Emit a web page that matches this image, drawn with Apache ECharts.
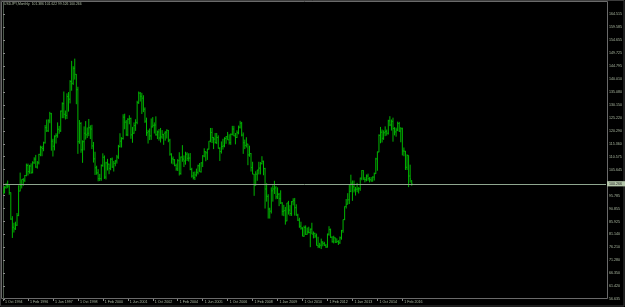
<!DOCTYPE html>
<html>
<head>
<meta charset="utf-8">
<script src="https://cdn.jsdelivr.net/npm/echarts@6/dist/echarts.min.js"></script>
<style>
html,body{margin:0;padding:0;background:#000;}
#c{width:625px;height:307px;}
</style>
</head>
<body>
<div id="c"></div>
<script>
const titleText = 'USDJPY,Monthly  101.386 101.622 99.526 100.266';
const currentPrice = 100.266;
const currentPriceLabel = '100.266';

const xTickIndex = [0, 16, 32, 48, 64, 80, 96, 112, 128, 144, 160, 176, 192, 208, 224, 240, 256];
const xTickLabels = ['1 Oct 1994', '1 Feb 1996', '1 Jun 1997', '1 Oct 1998', '1 Feb 2000', '1 Jun 2001',
  '1 Oct 2002', '1 Feb 2004', '1 Jun 2005', '1 Oct 2006', '1 Feb 2008', '1 Jun 2009', '1 Oct 2010',
  '1 Feb 2012', '1 Jun 2013', '1 Oct 2014', '1 Feb 2016'];

const yTickLabels = ['56.635', '61.420', '66.350', '71.280', '76.210', '81.140', '85.925', '90.855', '95.785',
  '105.645', '110.575', '115.360', '120.290', '125.220', '130.150', '135.080', '140.010', '144.795',
  '149.725', '154.655', '159.585', '164.515'];

// Monthly bars Oct 1994 .. Aug 2016 : [open, high, low, close]
const ohlc1994 = [[98.5,98.9,96.2,97.1],[97.1,99.4,96.6,98.9],[98.9,100.6,98.4,99.7]];
const ohlc1995 = [[99.7,101.5,98.6,99.4],[99.4,99.8,96.1,96.9],[96.9,97.0,86.6,86.9],[86.9,88.0,79.75,83.8],
  [83.8,85.5,81.8,83.2],[83.2,85.9,82.8,84.6],[84.6,89.2,84.3,88.3],[88.3,99.7,88.0,97.5],
  [97.5,104.5,97.4,99.7],[99.7,101.9,98.5,101.9],[101.9,102.4,99.5,101.6],[101.6,103.6,100.9,103.4]];
const ohlc1996 = [[103.4,107.9,103.1,107.2],[107.2,107.9,103.4,104.9],[104.9,107.4,104.1,107.0],[107.0,108.0,104.0,104.6],
  [104.6,108.8,104.2,108.2],[108.2,110.3,107.8,109.6],[109.6,111.2,106.3,106.6],[106.6,108.9,106.0,108.2],
  [108.2,111.6,107.6,111.4],[111.4,114.7,110.7,114.0],[114.0,114.6,110.7,113.6],[113.6,116.2,112.6,115.8]];
const ohlc1997 = [[115.8,122.5,115.5,121.5],[121.5,124.6,119.9,120.3],[120.3,124.7,119.9,124.1],[124.1,127.5,123.2,126.8],
  [126.8,127.1,112.8,116.4],[116.4,117.3,110.6,114.5],[114.5,118.6,112.9,118.3],[118.3,119.4,115.5,118.6],
  [118.6,123.5,117.7,120.9],[120.9,122.2,119.2,120.3],[120.3,128.0,119.9,127.8],[127.8,131.1,125.1,130.6]];
const ohlc1998 = [[130.6,135.2,125.1,126.6],[126.6,128.0,124.6,126.1],[126.1,134.5,124.8,133.3],[133.3,135.0,127.6,132.3],
  [132.3,139.5,130.7,139.0],[139.0,146.8,135.5,138.3],[138.3,144.8,137.7,144.0],[144.0,147.66,139.7,141.7],
  [141.7,141.8,130.4,135.9],[135.9,137.0,111.6,116.2],[116.2,124.4,115.4,123.1],[123.1,123.6,112.0,113.1]];
const ohlc1999 = [[113.1,116.7,108.2,116.2],[116.2,122.0,112.9,119.4],[119.4,124.0,117.0,118.8],[118.8,121.6,117.6,119.4],
  [119.4,124.8,118.3,121.5],[121.5,122.4,117.2,121.0],[121.0,122.6,113.4,114.6],[114.6,116.1,108.3,109.7],
  [109.7,112.4,103.6,106.3],[106.3,107.1,103.7,104.4],[104.4,105.8,101.2,102.2],[102.2,104.0,101.3,102.2]];
const ohlc2000 = [[102.2,107.6,101.4,107.2],[107.2,111.8,106.7,110.3],[110.3,111.0,102.1,102.8],[102.8,108.6,101.9,108.2],
  [108.2,109.7,105.3,107.7],[107.7,107.9,103.9,106.1],[106.1,110.0,105.4,109.6],[109.6,110.2,106.3,106.6],
  [106.6,108.9,104.9,108.0],[108.0,109.3,106.9,108.9],[108.9,111.2,107.9,110.4],[110.4,115.0,109.7,114.4]];
const ohlc2001 = [[114.4,119.4,114.0,116.4],[116.4,117.9,114.0,117.4],[117.4,126.6,117.0,125.5],[125.5,126.8,120.9,123.6],
  [123.6,124.4,118.4,118.8],[118.8,125.1,118.3,124.7],[124.7,126.2,122.8,125.0],[125.0,125.3,117.3,118.8],
  [118.8,121.8,115.8,119.4],[119.4,123.5,119.2,122.3],[122.3,124.7,120.3,123.5],[123.5,131.7,122.8,131.0]];
const ohlc2002 = [[131.0,135.2,130.5,134.6],[134.6,135.0,131.4,133.4],[133.4,134.7,126.7,132.7],[132.7,133.8,127.4,128.5],
  [128.5,129.2,123.3,124.0],[124.0,125.3,118.4,119.6],[119.6,120.7,115.5,120.1],[120.1,121.2,116.8,118.4],
  [118.4,125.0,116.9,121.8],[121.8,125.5,121.6,122.4],[122.4,123.5,119.3,122.5],[122.5,125.8,118.5,118.8]];
const ohlc2003 = [[118.8,120.4,117.2,119.9],[119.9,121.0,116.6,117.6],[117.6,121.4,115.9,118.0],[118.0,120.6,117.3,118.9],
  [118.9,119.1,115.0,119.4],[119.4,120.2,116.6,119.8],[119.8,120.9,117.4,120.5],[120.5,120.6,116.0,116.8],
  [116.8,117.3,110.9,111.5],[111.5,111.8,107.9,109.7],[109.7,110.6,107.6,109.4],[109.4,109.6,106.9,107.2]];
const ohlc2004 = [[107.2,107.9,105.2,105.9],[105.9,109.6,105.1,109.0],[109.0,112.2,103.4,104.2],[104.2,110.6,103.7,110.4],
  [110.4,114.9,108.6,109.6],[109.6,111.0,106.6,108.9],[108.9,112.4,107.5,111.5],[111.5,112.2,108.9,109.9],
  [109.9,111.8,108.7,110.0],[110.0,111.9,105.4,105.7],[105.7,106.3,102.6,103.2],[103.2,104.8,101.9,102.6]];
const ohlc2005 = [[102.6,104.9,101.7,103.6],[103.6,106.0,103.0,104.6],[104.6,107.5,103.8,107.1],[107.1,108.1,104.8,104.8],
  [104.8,108.4,104.5,108.2],[108.2,111.1,106.6,110.8],[110.8,113.7,110.3,112.4],[112.4,112.6,108.8,112.0],
  [112.0,113.5,109.3,113.4],[113.4,116.4,113.2,116.4],[116.4,121.4,116.0,119.7],[119.7,121.4,115.7,117.8]];
const ohlc2006 = [[117.8,118.0,113.4,117.2],[117.2,119.5,115.5,115.9],[115.9,119.5,115.3,117.8],[117.8,118.6,113.6,113.7],
  [113.7,114.1,108.9,112.5],[112.5,116.3,111.7,114.4],[114.4,117.3,113.2,114.6],[114.6,117.9,114.1,117.4],
  [117.4,118.3,115.4,118.1],[118.1,119.9,116.9,116.9],[116.9,119.0,115.1,115.8],[115.8,119.3,115.0,119.0]];
const ohlc2007 = [[119.0,122.2,118.6,121.0],[121.0,122.2,118.3,118.4],[118.4,119.5,115.2,117.8],[117.8,120.5,117.6,119.6],
  [119.6,122.3,119.0,121.7],[121.7,124.1,121.2,123.2],[123.2,123.7,118.2,118.7],[118.7,119.7,111.6,115.8],
  [115.8,117.0,113.4,114.8],[114.8,117.9,114.0,115.3],[115.3,115.4,107.3,111.2],[111.2,114.7,110.5,111.7]];
const ohlc2008 = [[111.7,111.9,104.9,106.4],[106.4,108.6,103.9,103.9],[103.9,104.0,95.7,99.7],[99.7,105.0,99.6,103.9],
  [103.9,105.5,101.4,105.5],[105.5,108.6,103.8,106.2],[106.2,108.5,103.8,107.9],[107.9,110.7,107.6,108.8],
  [108.8,109.0,103.5,106.0],[106.0,106.3,90.9,98.3],[98.3,100.5,93.5,95.5],[95.5,96.3,87.1,90.7]];
const ohlc2009 = [[90.7,91.2,87.1,89.9],[89.9,98.9,89.0,97.6],[97.6,99.7,93.5,98.3],[98.3,101.4,96.4,98.7],
  [98.7,99.4,94.4,95.3],[95.3,98.9,94.5,96.3],[96.3,96.8,91.8,94.6],[94.6,97.8,92.6,93.0],
  [93.0,93.3,88.2,89.8],[89.8,92.3,88.0,90.1],[90.1,91.5,84.8,86.2],[86.2,93.0,86.1,93.0]];
const ohlc2010 = [[93.0,93.8,88.6,90.3],[90.3,92.2,88.1,89.0],[89.0,93.7,88.1,93.5],[93.5,94.8,92.1,94.0],
  [94.0,94.9,88.2,91.2],[91.2,92.5,88.2,88.4],[88.4,88.9,86.2,86.5],[86.5,87.4,83.6,84.2],
  [84.2,85.9,82.9,83.5],[83.5,83.8,80.4,80.4],[80.4,84.4,80.2,83.7],[83.7,84.5,80.9,81.1]];
const ohlc2011 = [[81.1,83.7,81.0,82.0],[82.0,84.0,81.5,81.8],[81.8,83.3,76.25,83.1],[83.1,85.5,81.2,81.2],
  [81.2,82.2,79.6,81.5],[81.5,81.7,79.7,80.5],[80.5,81.4,76.9,76.9],[76.9,80.2,75.9,76.6],
  [76.6,77.9,75.9,77.0],[77.0,79.5,75.56,78.2],[78.2,78.5,76.6,77.6],[77.6,78.3,76.8,76.9]];
const ohlc2012 = [[76.9,77.5,76.0,76.3],[76.3,81.4,76.1,81.2],[81.2,84.2,80.6,82.9],[82.9,83.3,79.8,80.0],
  [80.0,80.4,78.0,78.3],[78.3,80.6,77.7,79.8],[79.8,79.9,77.9,78.1],[78.1,79.6,78.0,78.4],
  [78.4,78.9,77.1,77.9],[77.9,80.3,77.5,79.8],[79.8,82.8,79.1,82.5],[82.5,86.7,81.7,86.7]];
const ohlc2013 = [[86.7,91.7,86.5,91.7],[91.7,94.5,90.9,92.5],[92.5,96.7,92.5,94.2],[94.2,99.9,92.6,97.4],
  [97.4,103.7,97.1,100.5],[100.5,101.5,93.8,99.1],[99.1,101.5,97.0,97.9],[97.9,99.1,95.8,98.2],
  [98.2,100.6,97.1,98.3],[98.3,99.0,96.6,98.4],[98.4,102.6,97.6,102.4],[102.4,105.4,101.6,105.3]];
const ohlc2014 = [[105.3,105.4,101.8,102.0],[102.0,102.8,100.8,101.8],[101.8,103.8,101.2,103.2],[103.2,104.1,101.4,102.2],
  [102.2,102.8,100.8,101.8],[101.8,102.8,101.1,101.3],[101.3,103.1,101.1,102.8],[102.8,104.5,101.5,104.1],
  [104.1,110.1,104.0,109.7],[109.7,112.5,105.2,112.3],[112.3,118.98,112.2,118.6],[118.6,121.8,115.6,119.8]];
const ohlc2015 = [[119.8,120.8,115.9,117.5],[117.5,120.5,116.9,119.6],[119.6,122.0,118.3,120.1],[120.1,120.8,118.5,119.4],
  [119.4,124.5,118.9,124.1],[124.1,125.86,122.1,122.5],[122.5,124.6,120.4,123.9],[123.9,125.3,116.2,121.2],
  [121.2,121.7,118.6,119.9],[119.9,121.5,118.1,120.6],[120.6,123.8,120.2,123.1],[123.1,123.7,119.9,120.2]];
const ohlc2016 = [[120.2,121.7,115.98,121.1],[121.1,121.5,111.0,112.7],[112.7,114.0,110.7,112.6],[112.6,112.7,105.5,106.5],
  [106.5,111.4,105.5,111.0],[111.0,111.0,99.0,103.2],[103.2,107.5,100.7,102.1],[101.386,101.622,99.526,100.266]];

const ohlc = [].concat(ohlc1994, ohlc1995, ohlc1996, ohlc1997, ohlc1998, ohlc1999, ohlc2000, ohlc2001,
  ohlc2002, ohlc2003, ohlc2004, ohlc2005, ohlc2006, ohlc2007, ohlc2008, ohlc2009, ohlc2010, ohlc2011,
  ohlc2012, ohlc2013, ohlc2014, ohlc2015, ohlc2016);

const barData = ohlc.map((d, i) => [i, d[0], d[1], d[2], d[3]]);
const yTickValues = yTickLabels.map(Number);

const BAR = '#00b400';
const TXT = '#aebca4';
const FRAME = '#6a6a6a';

const chart = echarts.init(document.getElementById('c'), null, {renderer: 'canvas'});
chart.setOption({
  backgroundColor: '#000000',
  animation: false,
  grid: {left: 3, right: 18, top: 2, bottom: 8, containLabel: false},
  xAxis: {
    type: 'value', min: 0, max: 386.56,
    axisLine: {show: false},
    splitLine: {show: false},
    axisTick: {show: true, customValues: xTickIndex, length: 2, lineStyle: {color: '#8a8a8a', width: 1}},
    axisLabel: {
      show: true, customValues: xTickIndex, margin: 1, align: 'left', padding: [0, 0, 0, 2],
      fontSize: 3.6, fontFamily: 'Liberation Sans, Arial, sans-serif', color: TXT,
      formatter: v => { const k = xTickIndex.indexOf(Math.round(v)); return k >= 0 ? xTickLabels[k] : ''; }
    }
  },
  yAxis: {
    type: 'value', position: 'right', min: 56.635, max: 169.1,
    axisLine: {show: true, lineStyle: {color: '#4d5a4d', width: 1}},
    splitLine: {show: false},
    axisTick: {show: true, customValues: yTickValues, length: 2, lineStyle: {color: '#8a8a8a'}},
    axisLabel: {
      show: true, customValues: yTickValues, margin: 3,
      fontSize: 3.6, fontFamily: 'Liberation Sans, Arial, sans-serif', color: TXT,
      formatter: v => { const k = yTickValues.findIndex(t => Math.abs(t - v) < 1e-6); return k >= 0 ? yTickLabels[k] : ''; }
    }
  },
  series: [{
    type: 'custom',
    data: barData,
    encode: {x: 0, y: [1, 2, 3, 4]},
    clip: true,
    renderItem: (params, api) => {
      const i = api.value(0);
      const ph = api.coord([i, api.value(2)]);
      const pl = api.coord([i, api.value(3)]);
      const po = api.coord([i, api.value(1)]);
      const pc = api.coord([i, api.value(4)]);
      const st = {stroke: BAR, lineWidth: 1};
      return {type: 'group', children: [
        {type: 'line', shape: {x1: ph[0], y1: ph[1], x2: pl[0], y2: pl[1]}, style: st},
        {type: 'line', shape: {x1: po[0] - 0.8, y1: po[1], x2: po[0], y2: po[1]}, style: st},
        {type: 'line', shape: {x1: pc[0], y1: pc[1], x2: pc[0] + 0.8, y2: pc[1]}, style: st}
      ]};
    },
    markLine: {
      silent: true, symbol: ['none', 'none'],
      lineStyle: {color: '#8fa68f', width: 1, type: 'solid'},
      label: {
        show: true, position: 'end', distance: 1, formatter: currentPriceLabel,
        fontSize: 3.6, fontFamily: 'Liberation Sans, Arial, sans-serif', color: '#1a1a1a',
        backgroundColor: '#b4c6aa', padding: [0.8, 3, 0.4, 2]
      },
      data: [{yAxis: currentPrice}]
    }
  }],
  graphic: [
    {type: 'rect', shape: {x: 0.5, y: 0.5, width: 623.5, height: 305.5}, style: {fill: 'none', stroke: '#3c3c3c', lineWidth: 1}, silent: true},
    {type: 'rect', shape: {x: 1.5, y: 1.5, width: 606, height: 297}, style: {fill: 'none', stroke: FRAME, lineWidth: 1}, silent: true},
    {type: 'text', left: 4, top: 3, style: {text: titleText, fontSize: 3.4, fontFamily: 'Liberation Sans, Arial, sans-serif', fill: TXT}, silent: true}
  ]
});
</script>
</body>
</html>
